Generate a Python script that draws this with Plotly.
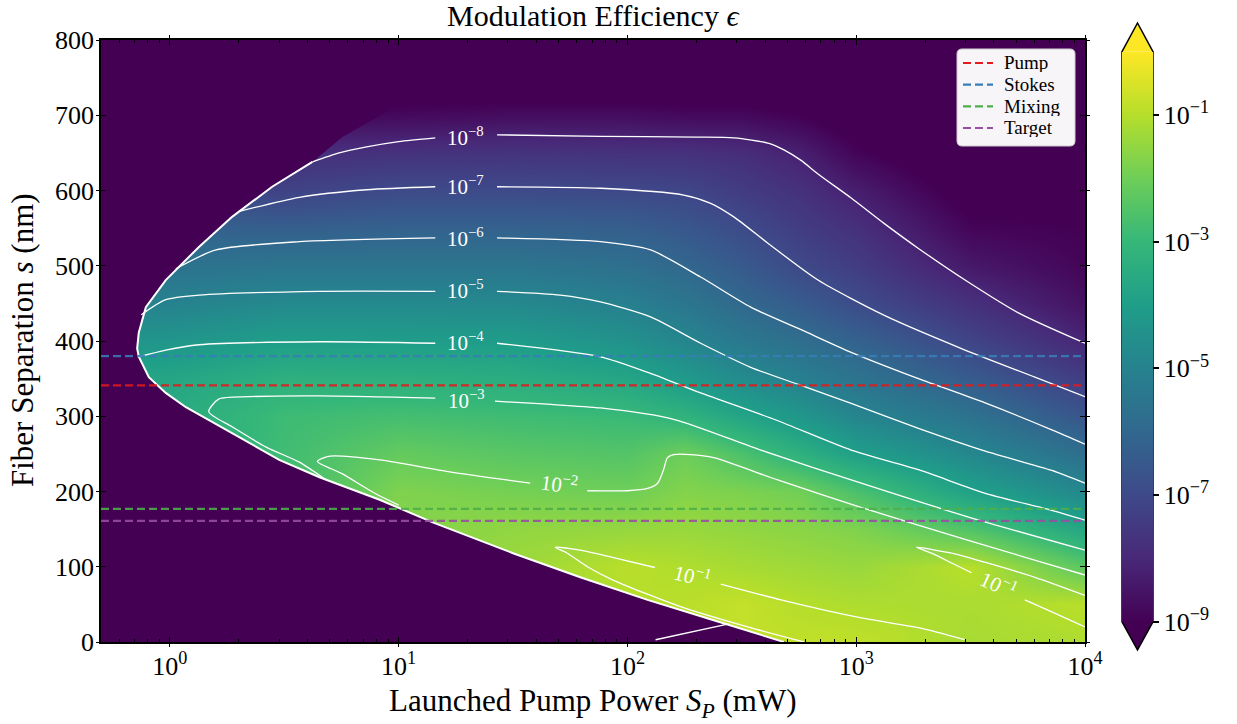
import numpy as np
import plotly.graph_objects as go

FONT = "Liberation Serif"

# ---------------- data ----------------
# heatmap grid: columns are log10(launched pump power / mW), rows are separation (nm)
log_power_cols = [-0.30103, 0.0, 0.5, 1.0, 1.5, 2.0, 2.25, 2.5, 2.75, 3.0, 3.5, 4.0]
separation_rows = [0, 50, 100, 150, 200, 250, 300, 350, 400, 450, 500, 550, 600, 650, 700, 750, 800]

# log10(epsilon) for each column (bottom -> top)
col_m030 = [-3.5, -3.5, -3.5, -3.5, -3.5, -3.5, -3.5, -3.7, -4.3, -5.0, -5.6, -6.2, -6.95, -7.7, -8.8, -9.6, -10.0]
col_000 = [-3.5, -3.5, -3.5, -3.5, -3.5, -3.5, -3.5, -3.7, -4.3, -5.0, -5.6, -6.2, -6.95, -7.7, -8.8, -9.6, -10.0]
col_050 = [-2.8, -2.8, -2.8, -2.8, -2.8, -2.8, -2.85, -3.3, -4.0, -4.75, -5.5, -6.3, -7.2, -7.8, -8.8, -9.6, -10.0]
col_100 = [-1.7, -1.7, -1.7, -1.7, -1.75, -2.17, -2.72, -3.33, -4.03, -4.75, -5.5, -6.2, -6.95, -7.7, -8.8, -9.6, -10.0]
col_150 = [-1.35, -1.35, -1.35, -1.5, -1.9, -2.36, -2.82, -3.42, -4.07, -4.77, -5.5, -6.2, -6.95, -7.65, -8.7, -9.6, -10.0]
col_200 = [-1.0, -1.0, -0.95, -1.45, -1.99, -2.46, -2.93, -3.71, -4.44, -5.1, -5.7, -6.3, -7.0, -7.7, -8.7, -9.6, -10.1]
col_225 = [-0.9, -0.95, -1.07, -1.4, -1.7, -2.02, -3.19, -4.16, -4.88, -5.47, -6.03, -6.55, -7.09, -7.7, -8.8, -9.6, -10.2]
col_250 = [-0.8, -0.8, -1.2, -1.5, -1.8, -2.58, -3.77, -4.65, -5.36, -5.98, -6.46, -6.93, -7.39, -7.84, -8.8, -9.6, -10.2]
col_275 = [-0.85, -1.0, -1.3, -1.6, -1.95, -3.27, -4.27, -5.07, -5.77, -6.4, -7.0, -7.36, -7.71, -8.2, -9.0, -9.6, -10.2]
col_300 = [-0.85, -1.1, -1.4, -1.75, -2.59, -3.93, -4.89, -5.54, -6.18, -6.91, -7.36, -7.76, -8.25, -8.9, -9.4, -9.7, -10.2]
col_350 = [-1.2, -1.15, -0.95, -2.52, -3.88, -4.8, -5.62, -6.4, -7.14, -7.75, -8.4, -8.9, -9.3, -9.6, -9.8, -9.9, -10.0]
col_400 = [-1.1, -0.95, -2.33, -3.7, -4.78, -5.75, -6.61, -7.36, -8.05, -8.6, -8.9, -9.0, -9.1, -9.2, -9.3, -9.4, -9.5]

# edge of the region where the modulation exists (log10 mW, nm)
edge_x = [0.623, 0.447, 0.272, 0.127, -0.018, -0.105, -0.136, -0.143, -0.136, -0.092, -0.018, 0.070,
          0.171, 0.303, 0.478, 0.654, 0.917, 1.149, 1.500, 1.794, 2.088, 2.377, 2.684]
edge_y = [638, 605, 565, 525, 481, 445, 411, 390, 379, 352, 331, 312,
          295, 272, 242, 219, 189, 159, 118, 86, 56, 29, 0]
# upper fading edge beyond the sharp boundary
fade_x = [1.40, 1.20, 0.95, 0.754]
fade_y = [805, 760, 705, 671]

# contour lines (None = gap for the inline label)
c8_x = [0.623, 0.74, 0.86, 1.0, 1.16, None, 1.43, 1.882, 2.3, 2.465, 2.614, 2.684, 2.759, 2.833, 2.978, 3.123, 3.272, 3.491, 3.711, 4.0]
c8_y = [638, 650, 658, 665, 670, None, 674, 672, 671, 670, 663, 654, 640, 622, 590, 556, 523, 478, 437, 397]
c7_x = [0.30, 0.566, 0.86, 1.16, None, 1.43, 1.882, 2.246, 2.364, 2.465, 2.614, 2.833, 3.123, 3.46, 3.781, 4.0]
c7_y = [572, 591, 601, 605, None, 605, 603, 594, 583, 565, 530, 481, 434, 390, 352, 326]
c6_x = [0.026, 0.202, 0.566, 1.16, None, 1.43, 1.882, 2.101, 2.320, 2.539, 2.759, 2.978, 3.272, 3.561, 3.855, 4.0]
c6_y = [496, 521, 532, 537, None, 537, 532, 521, 485, 445, 415, 385, 350, 318, 282, 263]
c5_x = [-0.125, -0.018, 0.127, 0.654, 1.16, None, 1.43, 1.706, 1.882, 2.101, 2.320, 2.539, 2.759, 2.978, 3.272, 3.561, 3.855, 4.0]
c5_y = [435, 455, 461, 466, 466, None, 466, 461, 452, 432, 397, 365, 341, 317, 284, 254, 228, 211]
c4_x = [-0.136, -0.018, 0.127, 0.654, 1.16, None, 1.43, 1.882, 2.101, 2.320, 2.649, 2.978, 3.272, 3.561, 3.855, 4.0]
c4_y = [379, 388, 395, 399, 397, None, 397, 379, 357, 331, 295, 255, 229, 198, 175, 162]
c3_x = [0.68, 0.566, 0.421, 0.272, 0.17, 0.215, 0.346, 0.654, 1.16, None, 1.421, 1.65, 1.882, 2.202, 2.583, 3.022, 3.491, 4.0]
c3_y = [216, 239, 259, 286, 306, 323, 326, 327, 324, None, 320, 316, 311, 296, 255, 211, 166, 122]
c2_x = [1.0, 0.90, 0.75, 0.645, 0.70, 0.917, 1.224, 1.575, None, 1.825, 2.0, 2.088, 2.132, 2.158, 2.175, 2.202, 2.276, 2.377, 2.66, 3.02, 3.49, 4.0]
c2_y = [182, 197, 224, 240, 247, 242, 226, 211, None, 201, 201, 204, 211, 229, 245, 249, 249, 245, 215, 179, 135, 89]
c1a_x = [2.772, 2.526, 2.232, 1.939, 1.825, 1.737, 1.684, 1.794, 1.939, 2.12, None, 2.408, 2.671, 3.022, 3.272, 3.474]
c1a_y = [0, 20, 47, 82, 100, 118, 126, 122, 112, 99, None, 77, 56, 32, 19, 3]
c1b_x = [4.0, 3.781, 3.561, 3.417, 3.263, 3.329, 3.417, 3.504, None, 3.737, 3.855, 4.0]
c1b_y = [62, 86, 106, 118, 126, 118, 105, 92, None, 56, 40, 20]
c_low_x = [2.123, 2.443]
c_low_y = [3, 24]

# contour labels: (log10 P, s, exponent, rotation)
label_x = [1.294, 1.294, 1.294, 1.294, 1.294, 1.298, 1.702, 2.285, 3.623]
label_y = [672, 607, 537, 468, 400, 322, 211, 89, 76]
label_exp = [-8, -7, -6, -5, -4, -3, -2, -1, -1]
label_rot = [0, 0, 0, 0, 0, 0, 8, 14, 25]

# reference wavelength separations (nm)
line_names = ["Pump", "Stokes", "Mixing", "Target"]
line_values = [341, 380, 177, 161]
line_colors = ["#e41a1c", "#377eb8", "#4daf4a", "#984ea3"]

x_tick_vals = [0, 1, 2, 3, 4]
x_tick_text = ["10<sup>0</sup>", "10<sup>1</sup>", "10<sup>2</sup>", "10<sup>3</sup>", "10<sup>4</sup>"]
y_tick_vals = [0, 100, 200, 300, 400, 500, 600, 700, 800]
cb_tick_vals = [-9, -7, -5, -3, -1]
cb_tick_text = ["10<sup>\u22129</sup>", "10<sup>\u22127</sup>", "10<sup>\u22125</sup>", "10<sup>\u22123</sup>", "10<sup>\u22121</sup>"]

# ---------------- figure ----------------
X_MIN, X_MAX = log_power_cols[0], log_power_cols[-1]
Y_MIN, Y_MAX = separation_rows[0], separation_rows[-1]

z = np.array([col_m030, col_000, col_050, col_100, col_150, col_200, col_225,
              col_250, col_275, col_300, col_350, col_400]).T

W, H = 1237, 724
ML, MR, MT, MB = 101, 152, 40, 82
PW, PH = W - ML - MR, H - MT - MB


def px2paper(px, py):
    return (px - ML) / PW, (H - MB - py) / PH


def pxpath(cmds):
    out = []
    for c in cmds:
        if isinstance(c, str):
            out.append(c)
        else:
            a, b = px2paper(*c)
            out.append(f"{a:.5f},{b:.5f}")
    return " ".join(out)


fig = go.Figure()

cb_top, cb_bot = 51.7, 621.7
cb_left, cb_right = 1122, 1153
cbx0, _ = px2paper(cb_left, 0)
_, cby_mid = px2paper(0, (cb_top + cb_bot) / 2)

fig.add_trace(go.Heatmap(
    x=log_power_cols, y=separation_rows, z=z, zmin=-9, zmax=0,
    colorscale="Viridis", zsmooth="best", hoverinfo="skip",
    colorbar=dict(
        x=cbx0, xanchor="left", y=cby_mid, yanchor="middle",
        len=cb_bot - cb_top, lenmode="pixels", thickness=cb_right - cb_left,
        thicknessmode="pixels", xpad=0, ypad=0, outlinewidth=0,
        tickmode="array", tickvals=cb_tick_vals, ticktext=cb_tick_text,
        ticks="outside", ticklen=6, tickwidth=1.5, tickcolor="black",
        tickfont=dict(family=FONT, size=26, color="black"),
    ),
))

# masked (no modulation) region
mask_x = [X_MIN - 0.01, X_MIN - 0.01] + fade_x + edge_x + [edge_x[-1] + 0.01, edge_x[-1] + 0.01]
mask_y = [Y_MIN - 5, Y_MAX + 5] + fade_y + edge_y + [edge_y[-1], Y_MIN - 5]
fig.add_trace(go.Scatter(x=mask_x, y=mask_y, fill="toself", fillcolor="#440154",
                         mode="lines", line=dict(width=0, color="#440154"),
                         hoverinfo="skip", showlegend=False))

# stacked contours at the edge
fig.add_trace(go.Scatter(x=edge_x, y=edge_y, mode="lines",
                         line=dict(color="white", width=2.0),
                         hoverinfo="skip", showlegend=False))

for cx, cy in [(c8_x, c8_y), (c7_x, c7_y), (c6_x, c6_y), (c5_x, c5_y), (c4_x, c4_y),
               (c3_x, c3_y), (c2_x, c2_y), (c1a_x, c1a_y), (c1b_x, c1b_y), (c_low_x, c_low_y)]:
    fig.add_trace(go.Scatter(x=cx, y=cy, mode="lines", connectgaps=False,
                             line=dict(color="white", width=1.3, shape="spline", smoothing=0.7),
                             hoverinfo="skip", showlegend=False))

for lx, ly, le, lr in zip(label_x, label_y, label_exp, label_rot):
    fig.add_annotation(x=lx, y=ly, xref="x", yref="y", showarrow=False,
                       text=f"10<sup>\u2212{abs(le)}</sup>", textangle=lr,
                       font=dict(family=FONT, size=21, color="white"),
                       xanchor="center", yanchor="middle")

DASH = "8px,4px"
for name, val, col in zip(line_names, line_values, line_colors):
    fig.add_trace(go.Scatter(x=[X_MIN, X_MAX], y=[val, val], mode="lines", name=name,
                             line=dict(color=col, width=2.2, dash=DASH), opacity=0.88,
                             hoverinfo="skip", showlegend=False))

# invisible trace carrying the outward tick axes
fig.add_trace(go.Scatter(x=[X_MIN], y=[Y_MIN], xaxis="x2", yaxis="y2", mode="markers",
                         marker=dict(opacity=0), hoverinfo="skip", showlegend=False))

minor_vals = [float(np.log10(m * 10.0 ** k)) for k in range(-1, 4) for m in range(2, 10)]
minor_vals = [v for v in minor_vals if X_MIN < v < X_MAX]

axis_common = dict(showgrid=False, zeroline=False, showline=True, linecolor="black",
                   linewidth=1.5, mirror="ticks", tickcolor="black",
                   tickfont=dict(family=FONT, size=26, color="black"))

fig.update_layout(
    width=W, height=H,
    margin=dict(l=ML, r=MR, t=MT, b=MB),
    paper_bgcolor="white", plot_bgcolor="#440154",
    font=dict(family=FONT, color="black"),
    showlegend=False,
    xaxis=dict(range=[X_MIN, X_MAX], tickmode="array", tickvals=x_tick_vals,
               ticktext=x_tick_text, ticks="inside", ticklen=5, tickwidth=1.3,
               minor=dict(tickmode="array", tickvals=minor_vals, ticks="inside",
                          ticklen=3, tickwidth=1, tickcolor="black"),
               layer="above traces", **axis_common),
    yaxis=dict(range=[Y_MIN, Y_MAX], tickmode="array", tickvals=y_tick_vals,
               ticks="inside", ticklen=5, tickwidth=1.3, layer="above traces",
               **axis_common),
    xaxis2=dict(range=[X_MIN, X_MAX], overlaying="x", anchor="y", side="bottom",
                tickmode="array", tickvals=x_tick_vals, ticks="outside", ticklen=3,
                tickwidth=1.3, showticklabels=False, **axis_common),
    yaxis2=dict(range=[Y_MIN, Y_MAX], overlaying="y", anchor="x", side="left",
                tickmode="array", tickvals=y_tick_vals, ticks="outside", ticklen=3,
                tickwidth=1.3, showticklabels=False, **axis_common),
)

# ---- legend (drawn box, samples and labels) ----
LX0, LY0, LX1, LY1, R = 957, 49, 1075, 146, 5
fig.add_shape(type="path", xref="paper", yref="paper",
              path=pxpath(["M", (LX0 + R, LY0), "L", (LX1 - R, LY0), "Q", (LX1, LY0), (LX1, LY0 + R),
                           "L", (LX1, LY1 - R), "Q", (LX1, LY1), (LX1 - R, LY1),
                           "L", (LX0 + R, LY1), "Q", (LX0, LY1), (LX0, LY1 - R),
                           "L", (LX0, LY0 + R), "Q", (LX0, LY0), (LX0 + R, LY0), "Z"]),
              fillcolor="rgba(255,255,255,0.96)", line=dict(color="#cccccc", width=1))
legend_rows_px = [63, 84.7, 106.3, 128]
for name, col, ry in zip(line_names, line_colors, legend_rows_px):
    a0, b0 = px2paper(963, ry)
    a1, _ = px2paper(993, ry)
    fig.add_shape(type="line", xref="paper", yref="paper", x0=a0, y0=b0, x1=a1, y1=b0,
                  line=dict(color=col, width=2.2, dash=DASH))
    ta, tb = px2paper(1003, ry)
    fig.add_annotation(text=name, xref="paper", yref="paper", x=ta, y=tb, showarrow=False,
                       xanchor="left", yanchor="middle", height=19, borderpad=0,
                       valign="middle", font=dict(family=FONT, size=19, color="black"))

# title and axis titles
fig.add_annotation(text="Modulation Efficiency <i>\u03f5</i>", xref="paper", yref="paper",
                   x=0.5, y=px2paper(0, 16)[1], showarrow=False, xanchor="center", yanchor="middle",
                   font=dict(family=FONT, size=30, color="black"))
fig.add_annotation(text="Launched Pump Power <i>S<sub>P</sub></i> (mW)", xref="paper", yref="paper",
                   x=0.5, y=px2paper(0, 703)[1], showarrow=False, xanchor="center", yanchor="middle",
                   font=dict(family=FONT, size=31, color="black"))
fig.add_annotation(text="Fiber Separation <i>s</i> (nm)", xref="paper", yref="paper",
                   x=px2paper(22, 0)[0], y=px2paper(0, 340)[1], showarrow=False, textangle=-90,
                   xanchor="center", yanchor="middle",
                   font=dict(family=FONT, size=31, color="black"))

# colorbar extensions and outline
tx0, ty_top = px2paper(cb_left, cb_top)
tx1, ty_bot = px2paper(cb_right, cb_bot)
txm, ty_tip = px2paper((cb_left + cb_right) / 2, 23)
_, ty_btip = px2paper(0, 650)
fig.add_shape(type="path", xref="paper", yref="paper",
              path=f"M {tx0} {ty_top} L {txm} {ty_tip} L {tx1} {ty_top} Z",
              fillcolor="#fde725", line=dict(width=0))
fig.add_shape(type="path", xref="paper", yref="paper",
              path=f"M {tx0} {ty_bot} L {txm} {ty_btip} L {tx1} {ty_bot} Z",
              fillcolor="#440154", line=dict(width=0))
fig.add_shape(type="path", xref="paper", yref="paper",
              path=(f"M {tx0} {ty_top} L {txm} {ty_tip} L {tx1} {ty_top} L {tx1} {ty_bot} "
                    f"L {txm} {ty_btip} L {tx0} {ty_bot} Z"),
              line=dict(color="black", width=1.5))

fig.write_html("out.html")
